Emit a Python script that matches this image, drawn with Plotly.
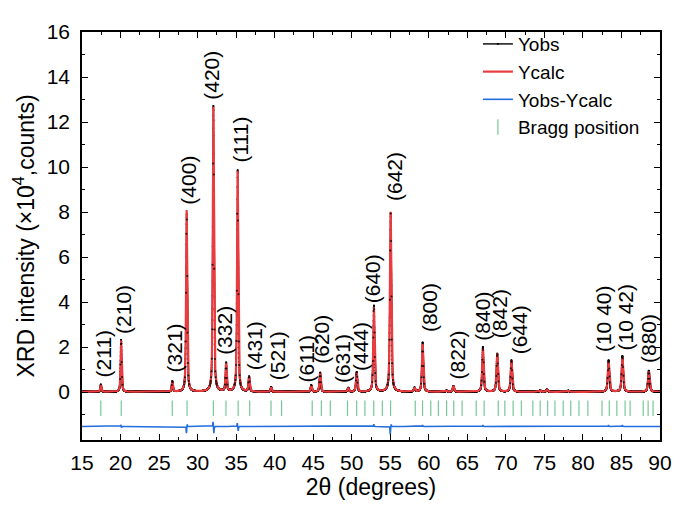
import numpy as np
import plotly.graph_objects as go

# ---- data (2theta in degrees, intensity in 1e4 counts) ----
peak_pos = [17.45, 20.08, 26.72, 28.58, 32.05, 33.70, 35.20, 36.68, 39.55, 44.75, 45.90,
            49.55, 50.64, 52.88, 55.05, 58.15, 59.20, 62.30, 63.20, 67.02, 68.88, 70.72,
            74.45, 75.35, 78.10, 83.33, 85.12, 88.55]
peak_height = [0.32, 2.28, 0.46, 8.07, 12.68, 1.26, 9.82, 0.66, 0.20, 0.29, 0.85,
               0.17, 0.87, 3.75, 8.00, 0.17, 2.12, 0.05, 0.25, 1.93, 1.69, 1.40,
               0.06, 0.10, 0.05, 1.34, 1.53, 0.93]

# residual features (Yobs - Ycalc) near the strongest reflections
resid_pos = [20.05, 20.12, 28.55, 28.66, 32.00, 32.11, 35.15, 35.27, 52.86, 55.00, 55.12,
             59.20, 67.02, 83.33, 85.12]
resid_amp = [0.08, -0.06, -0.30, 0.10, 0.22, -0.30, 0.15, -0.20, 0.10, -0.35, 0.10,
             0.07, 0.06, 0.06, 0.06]
diff_offset = -1.53

bragg_pos = [17.44, 20.09, 26.71, 28.63, 32.05, 33.68, 35.26, 36.76, 39.53, 40.90, 44.87,
             46.06, 47.22, 49.45, 50.64, 51.71, 52.86, 53.97, 55.04, 58.24, 59.19, 60.26,
             61.24, 62.31, 63.24, 64.32, 66.15, 67.18, 69.01, 69.87, 70.94, 72.01, 73.50,
             74.45, 75.42, 76.37, 77.44, 78.42, 79.49, 80.64, 82.47, 83.42, 84.40, 85.47,
             86.12, 87.82, 88.46, 89.10]
bragg_level = -0.72

hkl_text = ["(211)", "(210)", "(321)", "(400)", "(420)", "(332)", "(111)", "(431)", "(521)",
            "(611)", "(620)", "(631)", "(444)", "(640)", "(642)", "(800)", "(822)", "(840)",
            "(842)", "(644)", "(10 40)", "(10 42)", "(880)"]
hkl_x = [17.75, 20.40, 27.05, 28.85, 31.80, 33.45, 35.60, 37.30, 40.40, 44.10, 46.15,
         48.90, 51.15, 52.80, 55.55, 60.10, 63.70, 66.85, 69.15, 71.80, 82.70, 85.50, 88.50]
hkl_y = [0.55, 2.50, 0.80, 8.25, 12.90, 1.55, 10.10, 0.90, 0.45, 0.33, 1.15,
         0.30, 0.85, 3.85, 8.40, 2.58, 0.46, 2.20, 2.30, 1.60, 1.70, 1.75, 1.20]

# ---- build profiles from the peak table ----
tt = np.arange(15.0, 90.0001, 0.01)


def pv(x, x0, h, w, eta=0.6):
    g = np.exp(-4 * np.log(2) * ((x - x0) / w) ** 2)
    l = 1.0 / (1.0 + 4 * ((x - x0) / w) ** 2)
    return h * (eta * l + (1 - eta) * g)


ycalc = np.full_like(tt, 0.01)
for p, h in zip(peak_pos, peak_height):
    ycalc += pv(tt, p, h, 0.16 + 0.0012 * (p - 15))
resid = np.zeros_like(tt)
for p, a in zip(resid_pos, resid_amp):
    resid += pv(tt, p, a, 0.07, 0.3)
yobs = ycalc + resid
ydiff = yobs - ycalc + diff_offset

dot_mask = (np.arange(tt.size) % 5 == 0) & (yobs > 0.3)

FONT = "Liberation Sans, Arial, sans-serif"
RED = "#EA3B3F"
BLUE = "rgb(35,110,220)"
GREEN = "rgb(120,200,150)"

fig = go.Figure()
fig.add_trace(go.Scatter(x=tt, y=yobs, mode="lines+markers", name="Yobs",
                         line=dict(color="black", width=1.4),
                         marker=dict(color="black", size=2)))
fig.add_trace(go.Scatter(x=tt, y=ycalc, mode="lines", name="Ycalc",
                         line=dict(color=RED, width=2.2)))
fig.add_trace(go.Scatter(x=tt[dot_mask], y=yobs[dot_mask], mode="markers", showlegend=False,
                         marker=dict(color="rgba(0,0,0,0.8)", size=2), hoverinfo="skip"))
fig.add_trace(go.Scatter(x=tt, y=ydiff, mode="lines", name="Yobs-Ycalc",
                         line=dict(color=BLUE, width=1.6)))
fig.add_trace(go.Scatter(x=bragg_pos, y=[bragg_level] * len(bragg_pos), mode="markers",
                         name="Bragg position",
                         marker=dict(symbol="line-ns-open", size=11,
                                     line=dict(color=GREEN, width=1.2), color=GREEN)))

for t, xx, yy in zip(hkl_text, hkl_x, hkl_y):
    fig.add_annotation(x=xx, y=yy, text=t, textangle=-90, showarrow=False,
                       xanchor="center", yanchor="bottom",
                       font=dict(family=FONT, size=21, color="black"))

axis_common = dict(showline=True, linecolor="black", linewidth=1.6, mirror="ticks",
                   ticks="inside", ticklen=6, tickwidth=1.4, tickcolor="black",
                   showgrid=False, zeroline=False,
                   tickfont=dict(family=FONT, size=21, color="black"))

fig.update_xaxes(range=[15, 90], tick0=15, dtick=5,
                 minor=dict(ticks="inside", ticklen=3.5, tickwidth=1.2, tickcolor="black",
                            tick0=15, dtick=2.5, showgrid=False),
                 title=dict(text="2θ (degrees)", font=dict(family=FONT, size=23, color="black"),
                            standoff=2),
                 ticklabelstandoff=3,
                 **axis_common)
fig.update_yaxes(range=[-2.13, 16], tickmode="array", tickvals=list(range(0, 17, 2)),
                 minor=dict(ticks="inside", ticklen=3.5, tickwidth=1.2, tickcolor="black",
                            tickmode="array", tickvals=list(range(-1, 17, 2)), showgrid=False),
                 title=dict(text="XRD intensity (×10<sup>4</sup>,counts)",
                            font=dict(family=FONT, size=23, color="black"), standoff=6),
                 ticklabelstandoff=6,
                 **axis_common)

# the page places the figure 8 px from the top-left corner; margins account for that
fig.update_layout(
    width=676, height=498,
    margin=dict(l=74, r=17, t=14, b=66),
    paper_bgcolor="white", plot_bgcolor="white",
    font=dict(family=FONT, color="black"),
    legend=dict(x=0.685, y=1.017, xanchor="left", yanchor="top",
                bgcolor="rgba(0,0,0,0)", borderwidth=0,
                font=dict(family=FONT, size=19, color="black"),
                tracegroupgap=0, itemwidth=30),
    showlegend=True,
)

fig.write_html("out.html")
